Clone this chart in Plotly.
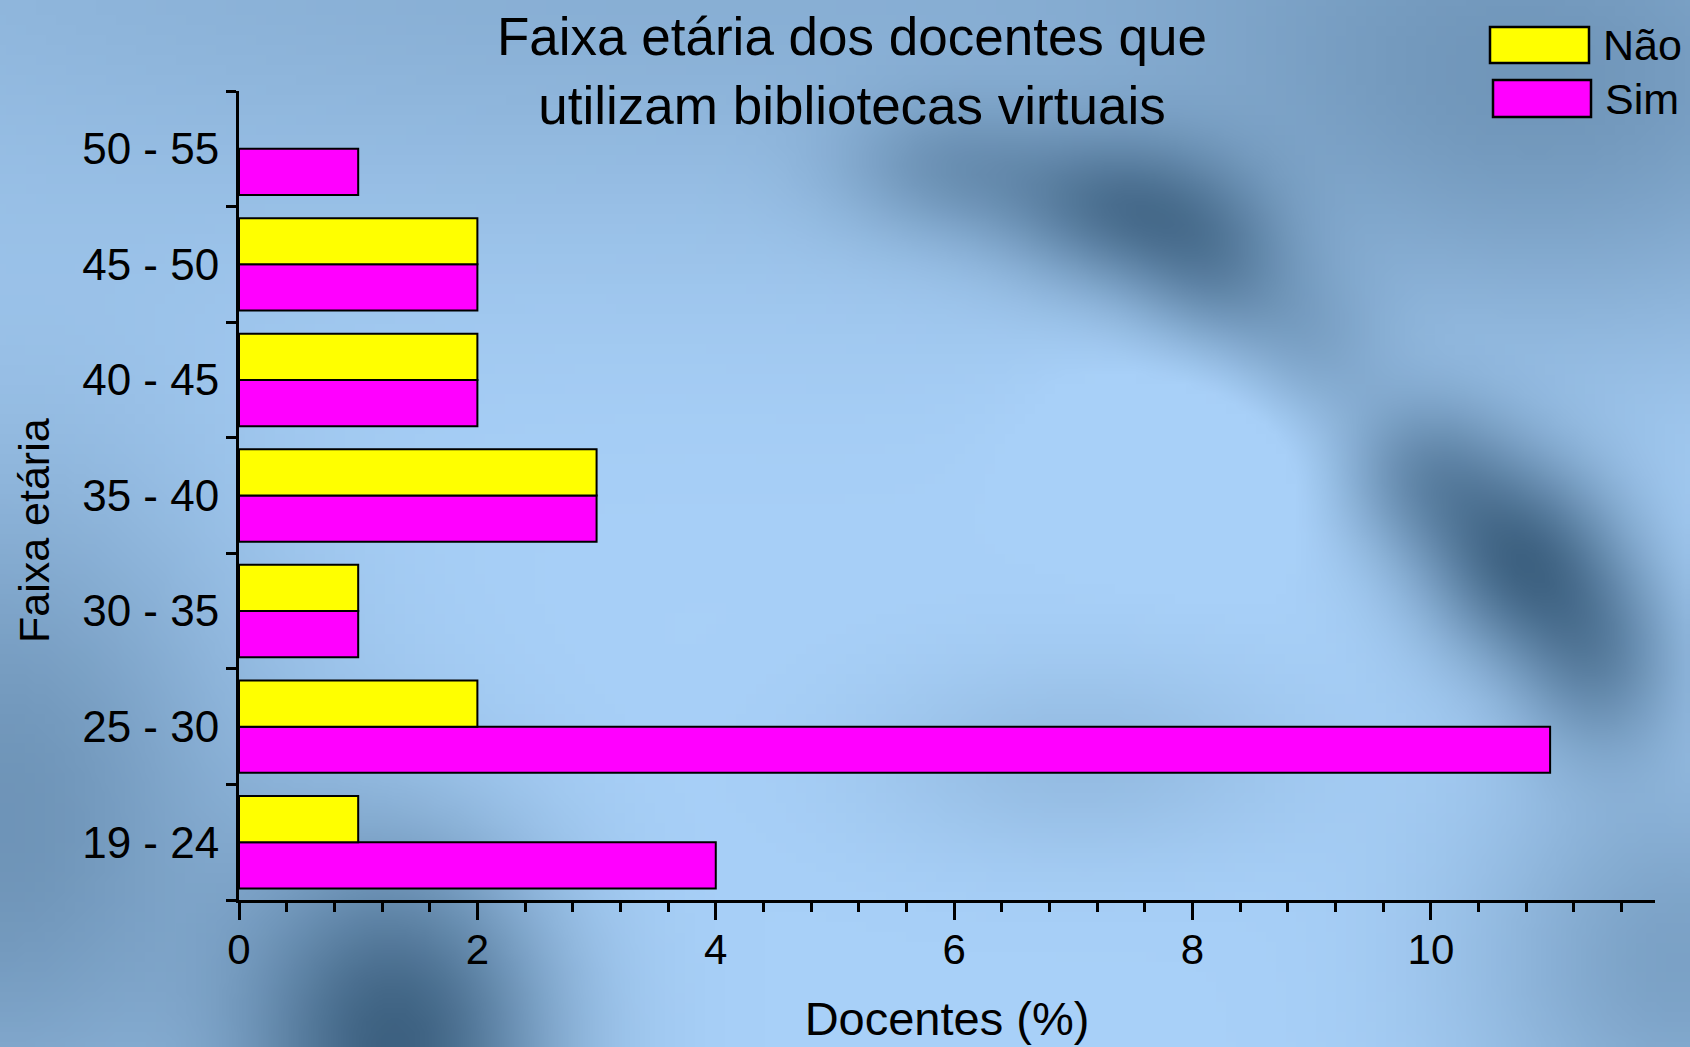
import base64
import struct
import zlib

import numpy as np
import plotly.graph_objects as go

# ---------------- data ----------------
categories = ["19 - 24", "25 - 30", "30 - 35", "35 - 40", "40 - 45", "45 - 50", "50 - 55"]
nao_values = [1, 2, 1, 3, 2, 2, None]
sim_values = [4, 11, 1, 3, 2, 2, 1]
x_ticks = [0, 2, 4, 6, 8, 10]

title_text = "Faixa etária dos docentes que<br>utilizam bibliotecas virtuais"
x_title = "Docentes (%)"
y_title = "Faixa etária"

# ---------------- geometry ----------------
W, H = 1690, 1047
ML, MR, MT, MB = 239, 35, 91, 147
PW, PH = W - ML - MR, H - MT - MB
FONT = "Liberation Sans, Arial, Helvetica, sans-serif"


def px_x(p):
    return (p - ML) / PW


def px_y(p):
    return 1 - (p - MT) / PH


# ---------------- blurred blue background (decorative) ----------------
def make_png(arr):
    h, w, _ = arr.shape
    raw = b"".join(b"\x00" + arr[i].tobytes() for i in range(h))

    def chunk(t, d):
        c = struct.pack(">I", len(d)) + t + d
        return c + struct.pack(">I", zlib.crc32(t + d) & 0xFFFFFFFF)

    return (b"\x89PNG\r\n\x1a\n"
            + chunk(b"IHDR", struct.pack(">IIBBBBB", w, h, 8, 2, 0, 0, 0))
            + chunk(b"IDAT", zlib.compress(raw, 9))
            + chunk(b"IEND", b""))


gw, gh = 169, 105
gx = (np.arange(gw) + 0.5) * W / gw
gy = (np.arange(gh) + 0.5) * H / gh
GX, GY = np.meshgrid(gx, gy)
blobs = [
    (700, -60, 950, 220, 0.26),
    (0, 820, 190, 260, 0.45),
    (400, 1047, 110, 140, 0.8),
    (950, 170, 80, 50, 0.28),
    (1120, 210, 80, 55, 0.5),
    (1215, 275, 60, 60, 0.35),
    (1310, 360, 60, 60, 0.28),
    (1420, 470, 65, 60, 0.45),
    (1520, 560, 70, 70, 0.7),
    (1600, 660, 60, 70, 0.45),
    (1560, 120, 260, 180, 0.3),
    (1680, 960, 150, 150, 0.35),
    (1080, 760, 150, 70, 0.15),
    (1250, 420, 120, 80, -0.2),
]
dmap = np.zeros_like(GX)
for cx, cy, sx, sy, a in blobs:
    dmap += a * np.exp(-(((GX - cx) / sx) ** 2 + ((GY - cy) / sy) ** 2) / 2)
dmap = np.clip(dmap, 0, 1)[..., None]
light = np.array([168, 208, 248], dtype=float)
dark = np.array([40, 75, 105], dtype=float)
img = (light * (1 - dmap) + dark * dmap).round().clip(0, 255).astype(np.uint8)
bg_uri = "data:image/png;base64," + base64.b64encode(make_png(img)).decode()

# ---------------- figure ----------------
fig = go.Figure()
fig.add_trace(go.Bar(
    y=categories, x=sim_values, orientation="h", name="Sim",
    marker=dict(color="#ff00ff", line=dict(color="black", width=2)),
    showlegend=False,
))
fig.add_trace(go.Bar(
    y=categories, x=nao_values, orientation="h", name="Não",
    marker=dict(color="#ffff00", line=dict(color="black", width=2)),
    showlegend=False,
))

fig.update_layout(
    width=W, height=H,
    margin=dict(l=ML, r=MR, t=MT, b=MB, autoexpand=False),
    paper_bgcolor="#a8d0f8",
    plot_bgcolor="rgba(0,0,0,0)",
    barmode="group", bargap=0.2, bargroupgap=0,
    font=dict(family=FONT, color="black"),
    title=dict(text=title_text, x=852 / W, xanchor="center", y=1 - 55 / H, yanchor="top",
               xref="container", yref="container",
               font=dict(size=53, family=FONT, color="black")),
    images=[dict(source=bg_uri, xref="paper", yref="paper",
                 x=-ML / PW, y=1 + MT / PH, sizex=W / PW, sizey=H / PH,
                 xanchor="left", yanchor="top", sizing="stretch", layer="below")],
)

fig.update_xaxes(
    range=[0, 11.88], tickvals=x_ticks, ticktext=[str(v) for v in x_ticks],
    showline=True, linecolor="black", linewidth=3, mirror=False,
    ticks="outside", ticklen=17, tickwidth=2.5, tickcolor="black",
    minor=dict(dtick=0.4, tick0=0, ticks="outside", ticklen=9, tickwidth=2.5, tickcolor="black"),
    showgrid=False, zeroline=False,
    tickfont=dict(size=42, family=FONT, color="black"),
    ticklabelstandoff=-6,
    title=dict(text=x_title, font=dict(size=47, family=FONT, color="black"), standoff=30),
    automargin=False,
)
fig.update_yaxes(
    type="category", categoryorder="array", categoryarray=categories,
    range=[-0.5, len(categories) - 0.5],
    showline=True, linecolor="black", linewidth=3,
    ticks="outside", tickson="boundaries", ticklen=10, tickwidth=2.5, tickcolor="black",
    showgrid=False, zeroline=False,
    tickfont=dict(size=44, family=FONT, color="black"),
    ticklabelstandoff=8,
    automargin=False,
)

# y-axis title placed like the original (slightly below centre)
fig.add_annotation(text=y_title, textangle=-90, xref="paper", yref="paper",
                   x=px_x(34), y=px_y(530), xanchor="center", yanchor="middle",
                   showarrow=False, font=dict(size=43, family=FONT, color="black"))

# legend drawn as in the original (large swatches)
legend_items = [("Não", "#ffff00", 1490, 1589, 27, 63), ("Sim", "#ff00ff", 1493, 1591, 80, 117)]
for name, col, x0, x1, y0, y1 in legend_items:
    fig.add_shape(type="rect", xref="paper", yref="paper",
                  x0=px_x(x0), x1=px_x(x1), y0=px_y(y1), y1=px_y(y0),
                  fillcolor=col, line=dict(color="black", width=2.5))
    fig.add_annotation(text=name, xref="paper", yref="paper",
                       x=px_x(x1 + 12), y=px_y((y0 + y1) / 2), xanchor="left", yanchor="middle",
                       showarrow=False, font=dict(size=43, family=FONT, color="black"))

fig.write_html("out.html", config={"displayModeBar": False},
               post_script="document.body.style.margin='0';document.body.style.overflow='hidden';")
